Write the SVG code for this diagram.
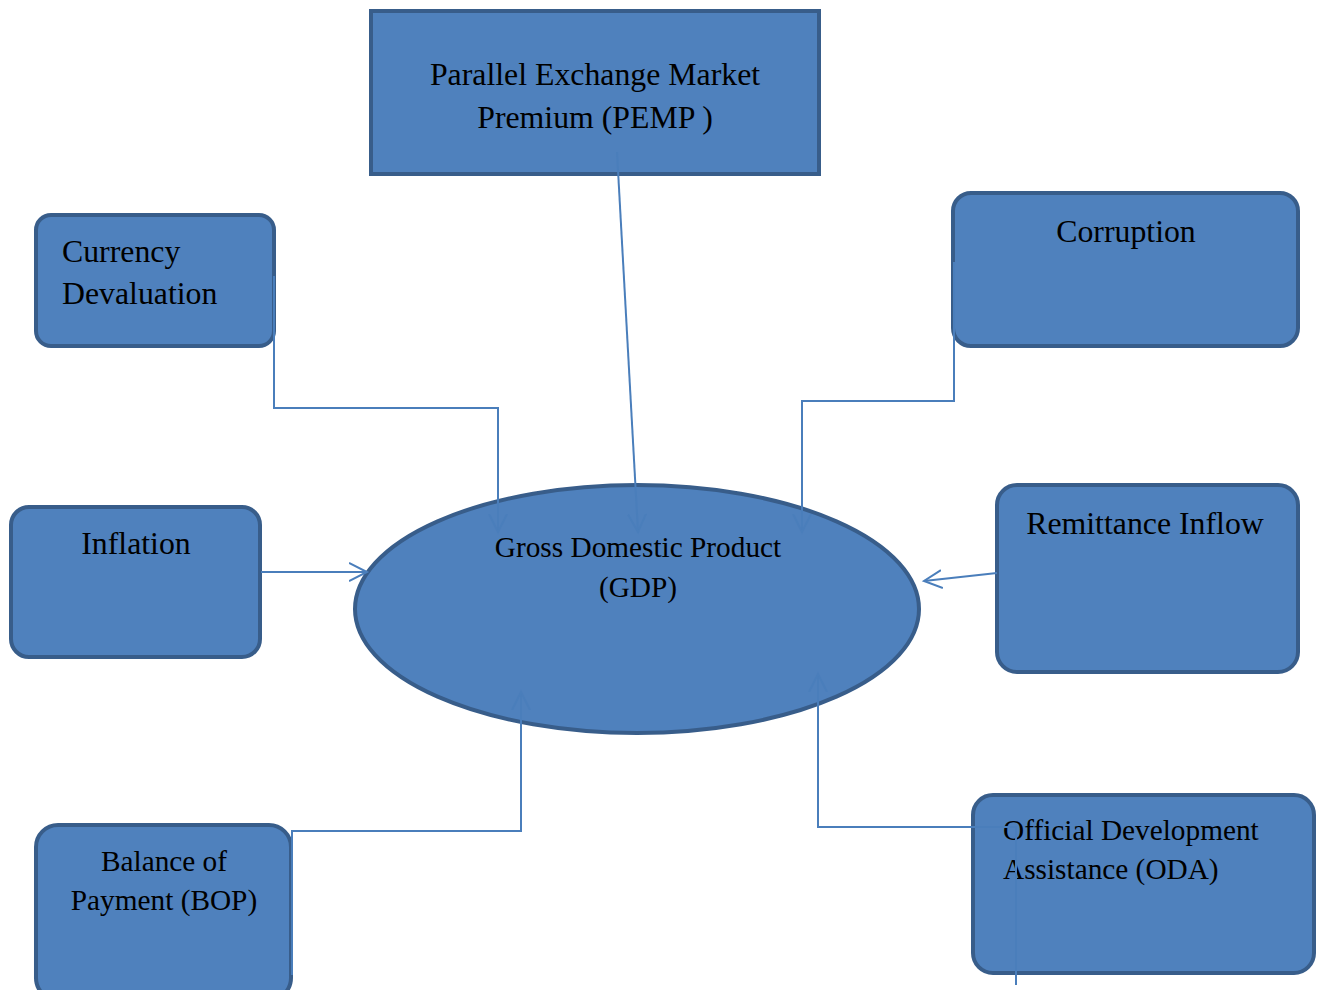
<svg xmlns="http://www.w3.org/2000/svg" width="1321" height="990" viewBox="0 0 1321 990">
<style>
.box{fill:#4F81BD;stroke:#385D8A;stroke-width:4}
.t{font-family:"Liberation Serif","Times New Roman",serif;fill:#000}
.l{font-size:31.8px}
.s{font-size:29.3px}
.c{text-anchor:middle}
.con{fill:none;stroke:#4A7EBB;stroke-width:2}
</style>
<defs>
<marker id="arr" markerWidth="22" markerHeight="22" refX="18" refY="10" orient="auto" markerUnits="userSpaceOnUse">
<path d="M0,1 L18,10 L0,19" fill="none" stroke="#4A7EBB" stroke-width="2"/>
</marker>
</defs>
<rect width="1321" height="990" fill="#fff"/>
<g id="pemp">
<rect class="box" x="371" y="11" width="448" height="163"/>
<text class="t l c" x="595" y="85">Parallel Exchange Market</text>
<text class="t l c" x="595" y="128">Premium (PEMP )</text>
</g>
<g id="currency">
<rect class="box" x="36" y="215" width="238" height="131" rx="15"/>
<text class="t l" x="62" y="262">Currency</text>
<text class="t l" x="62" y="304">Devaluation</text>
</g>
<g id="corruption">
<rect class="box" x="953" y="193" width="345" height="153" rx="18"/>
<text class="t l c" x="1126" y="242">Corruption</text>
</g>
<g id="inflation">
<rect class="box" x="11" y="507" width="249" height="150" rx="18"/>
<text class="t l c" x="136" y="554">Inflation</text>
</g>
<g id="remittance">
<rect class="box" x="997" y="485" width="301" height="187" rx="20"/>
<text class="t l c" x="1145" y="534">Remittance Inflow</text>
</g>
<g id="gdp">
<ellipse class="box" cx="637" cy="609" rx="282" ry="124"/>
<text class="t s c" x="638" y="557">Gross Domestic Product</text>
<text class="t s c" x="638" y="597">(GDP)</text>
</g>
<g id="bop">
<rect class="box" x="36" y="825" width="255" height="175" rx="22"/>
<text class="t s c" x="164" y="871">Balance of</text>
<text class="t s c" x="164" y="910">Payment (BOP)</text>
</g>
<g id="oda">
<rect class="box" x="973" y="795" width="341" height="178" rx="20"/>
<text class="t s" x="1003" y="840">Official Development</text>
<text class="t s" x="1003" y="879">Assistance (ODA)</text>
</g>
<g id="connectors">
<polyline class="con" points="274,276 274,408 498,408 498,532" marker-end="url(#arr)"/>
<line class="con" x1="617" y1="152" x2="638" y2="532" marker-end="url(#arr)"/>
<polyline class="con" points="954,262 954,401 802,401 802,532" marker-end="url(#arr)"/>
<line class="con" x1="261" y1="572" x2="367" y2="572" marker-end="url(#arr)"/>
<line class="con" x1="997" y1="573" x2="924" y2="581" marker-end="url(#arr)"/>
<polyline class="con" points="292,975 292,831 521,831 521,692" marker-end="url(#arr)"/>
<polyline class="con" points="1016,985 1016,827 818,827 818,674" marker-end="url(#arr)"/>
</g>
</svg>
